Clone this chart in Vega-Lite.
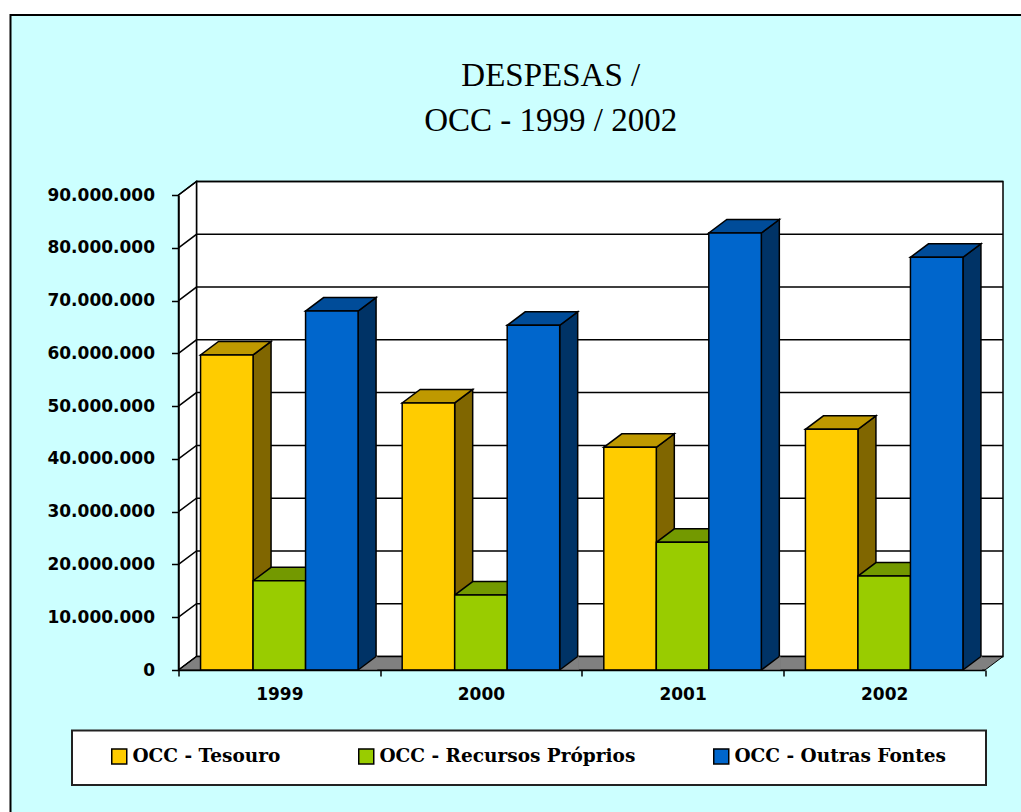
{
"$schema":"https://vega.github.io/schema/vega-lite/v6.json",
"width":806.5,"height":475,
"autosize":{"type":"none"},
"padding":{"left":178.5,"top":195,"right":36,"bottom":142},
"background":"#ffffff",
"title":{"text":["DESPESAS /","OCC - 1999 / 2002"],"font":"Liberation Serif","fontSize":33,"fontWeight":"normal","color":"#000000","anchor":"middle","dx":-31,"offset":0,"dy":127,"lineHeight":45},
"datasets":{
"bars":[
{"year":"1999","series":"OCC - Tesouro","value":59700000},
{"year":"2000","series":"OCC - Tesouro","value":50600000},
{"year":"2001","series":"OCC - Tesouro","value":42200000},
{"year":"2002","series":"OCC - Tesouro","value":45600000},
{"year":"1999","series":"OCC - Recursos Próprios","value":16900000},
{"year":"2000","series":"OCC - Recursos Próprios","value":14200000},
{"year":"2001","series":"OCC - Recursos Próprios","value":24200000},
{"year":"2002","series":"OCC - Recursos Próprios","value":17800000},
{"year":"1999","series":"OCC - Outras Fontes","value":68000000},
{"year":"2000","series":"OCC - Outras Fontes","value":65300000},
{"year":"2001","series":"OCC - Outras Fontes","value":82800000},
{"year":"2002","series":"OCC - Outras Fontes","value":78200000}],
"ticks":[{"value":0},{"value":10000000},{"value":20000000},{"value":30000000},{"value":40000000},{"value":50000000},{"value":60000000},{"value":70000000},{"value":80000000},{"value":90000000}],
"anchor":[{"value":0}]
},
"encoding":{
"x":{"field":"year","type":"nominal","scale":{"domain":["1999","2000","2001","2002"],"paddingInner":0,"paddingOuter":0},
"axis":{"title":null,"labelAngle":0,"tickBand":"extent","zindex":1,"labelFont":"DejaVu Sans","labelFontWeight":"bold","labelFontSize":17,"labelColor":"#000000","domainColor":"#000000","tickColor":"#000000","tickSize":6,"labelPadding":10,"domainWidth":1.5,"tickWidth":1.5}},
"y":{"field":"value","type":"quantitative","stack":null,"scale":{"domain":[0,90000000],"nice":false},
"axis":{"title":null,"grid":false,"values":[0,10000000,20000000,30000000,40000000,50000000,60000000,70000000,80000000,90000000],"labelExpr":"replace(format(datum.value, ','), /,/g, '.')","zindex":1,"labelFont":"DejaVu Sans","labelFontWeight":"bold","labelFontSize":17,"labelColor":"#000000","domainColor":"#000000","tickColor":"#000000","tickSize":7,"labelPadding":17,"domainWidth":1.5,"tickWidth":1.5}}
},
"layer":[
{"data":{"name":"anchor"},"mark":{"type":"point","filled":true,"opacity":1,"size":4,"shape":"M-168,150 V-655 H860 V150 Z","fill":"#CCFFFF","stroke":"#000000","strokeWidth":2},
 "encoding":{"x":{"datum":"1999","type":"nominal","bandPosition":0}}},
{"data":{"name":"anchor"},"mark":{"type":"point","filled":true,"opacity":1,"size":4,"shape":"M18,-13.5 H824.5 V-488.5 H18 Z","fill":"#ffffff","stroke":"#000000","strokeWidth":1.5},
 "encoding":{"x":{"datum":"1999","type":"nominal","bandPosition":0}}},
{"data":{"name":"anchor"},"mark":{"type":"point","filled":true,"opacity":1,"size":4,"shape":"M0,0 L18,-13.5 V-488.5 L0,-475 Z","fill":"#ffffff","stroke":"#000000","strokeWidth":1.5},
 "encoding":{"x":{"datum":"1999","type":"nominal","bandPosition":0}}},
{"data":{"name":"anchor"},"mark":{"type":"point","filled":true,"opacity":1,"size":4,"shape":"M0,0 H806.5 L824.5,-13.5 H18 Z","fill":"#808080","stroke":"#000000","strokeWidth":1},
 "encoding":{"x":{"datum":"1999","type":"nominal","bandPosition":0}}},
{"data":{"name":"ticks"},"mark":{"type":"point","filled":false,"opacity":1,"size":4,"shape":"M0,0 L18,-13.5 H824.5","stroke":"#000000","strokeWidth":1.5,"fill":null},
 "encoding":{"x":{"datum":"1999","type":"nominal","bandPosition":0}}},
{"data":{"name":"bars"},"mark":{"type":"point","filled":true,"opacity":1,"size":4,"clip":true,"shape":"M26.25,0 L44.25,-13.5 V800 H26.25 Z","stroke":"#000000","strokeWidth":1.5},
 "encoding":{"xOffset":{"field":"series","type":"nominal","scale":{"domain":["OCC - Tesouro","OCC - Recursos Próprios","OCC - Outras Fontes"],"paddingInner":0,"paddingOuter":0.42}},
 "color":{"field":"series","type":"nominal","legend":null,"scale":{"domain":["OCC - Tesouro","OCC - Recursos Próprios","OCC - Outras Fontes"],"range":["#806600","#4D6600","#003366"]}}}},
{"data":{"name":"bars"},"mark":{"type":"point","filled":true,"opacity":1,"size":4,"shape":"M26.25,0 L44.25,-13.5 L45.5,-13.5 V0.5 H26.25 Z","fill":"#808080","strokeWidth":0},
 "encoding":{"y":{"datum":0},"xOffset":{"field":"series","type":"nominal"}}},
{"data":{"name":"bars"},"mark":{"type":"point","filled":false,"opacity":1,"size":4,"shape":"M26.25,0 L44.25,-13.5","stroke":"#000000","strokeWidth":1.5},
 "encoding":{"y":{"datum":0},"xOffset":{"field":"series","type":"nominal"}}},
{"data":{"name":"bars"},"mark":{"type":"point","filled":true,"opacity":1,"size":4,"shape":"M-26.25,0 L26.25,0 L44.25,-13.5 L-8.25,-13.5 Z","stroke":"#000000","strokeWidth":1.5},
 "encoding":{"xOffset":{"field":"series","type":"nominal"},
 "color":{"field":"series","type":"nominal","legend":null,"scale":{"domain":["OCC - Tesouro","OCC - Recursos Próprios","OCC - Outras Fontes"],"range":["#BF9900","#739900","#004C99"]}}}},
{"data":{"name":"bars"},"mark":{"type":"bar","stroke":"#000000","strokeWidth":1.5},
 "encoding":{"xOffset":{"field":"series","type":"nominal"},
 "color":{"field":"series","type":"nominal","scale":{"domain":["OCC - Tesouro","OCC - Recursos Próprios","OCC - Outras Fontes"],"range":["#FFCC00","#99CC00","#0066CC"]},
 "legend":{"title":null,"orient":"none","legendX":-68.5,"legendY":552,"direction":"horizontal","columns":3,"columnPadding":74,"padding":0,"symbolType":"square","symbolSize":225,"symbolStrokeColor":"#000000","symbolStrokeWidth":1.5,"labelFont":"DejaVu Serif","labelFontWeight":"bold","labelFontSize":18.5,"labelColor":"#000000","labelLimit":500,"labelOffset":4}}}},
{"data":{"name":"anchor"},"mark":{"type":"point","filled":true,"opacity":1,"size":4,"shape":"M-106.5,60.5 H807.5 V115 H-106.5 Z","fill":"#ffffff","stroke":"#222222","strokeWidth":2},
 "encoding":{"x":{"datum":"1999","type":"nominal","bandPosition":0}}}
],
"resolve":{"scale":{"color":"independent"}},
"config":{"view":{"stroke":null}}
}
